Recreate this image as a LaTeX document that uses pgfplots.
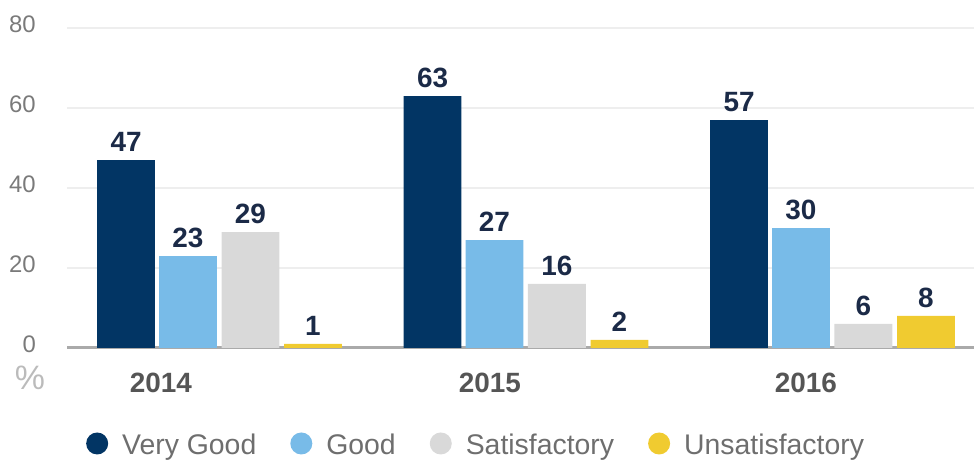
\documentclass[border=0pt]{standalone}
\usepackage{pgfplots}
\pgfplotsset{compat=1.18}
\usepackage{fontspec}
\setmainfont{Liberation Sans}
\definecolor{vgood}{HTML}{023564}
\definecolor{good}{HTML}{78BBE8}
\definecolor{satis}{HTML}{D9D9D9}
\definecolor{unsat}{HTML}{F0CB30}
\definecolor{lblcol}{HTML}{1B2A47}
\definecolor{yrcol}{HTML}{555555}
\definecolor{tickcol}{HTML}{7A7A7A}
\definecolor{gridcol}{HTML}{EEEEEE}
\definecolor{basecol}{HTML}{AAAAAA}

\begin{document}
\begin{tikzpicture}
\useasboundingbox (0,0) rectangle (974bp,462bp);
\begin{axis}[
  at={(67bp,114bp)}, anchor=south west,
  scale only axis,
  width=907bp, height=320bp,
  ybar,
  bar width=0.189,
  xmin=-0.4976, xmax=2.4617,
  ymin=0, ymax=80,
  ytick={20,40,60,80},
  extra y ticks={0},
  extra y tick style={grid style={draw=basecol, line width=3bp}},
  ymajorgrids,
  grid style={draw=gridcol, line width=1.5bp},
  axis line style={draw=none},
  major tick length=0pt,
  xtick={-0.191,0.882,1.913},
  xticklabels={2014,2015,2016},
  xticklabel style={font=\fontsize{28}{30}\selectfont\bfseries, text=yrcol, inner sep=0pt, anchor=north, yshift=-25bp},
  yticklabel style={font=\fontsize{24}{26}\selectfont, text=tickcol, inner sep=0pt, anchor=east, xshift=-31bp, yshift=3.5bp},
  /pgf/number format/assume math mode=true,
  nodes near coords,
  every node near coord/.append style={font=\fontsize{28}{30}\selectfont\bfseries, text=lblcol, inner sep=0pt, anchor=south, yshift=8bp},
  legend columns=4,
  legend image code/.code={\fill[#1, draw=none] (0bp,1bp) circle (11bp);},
  legend style={at={(0.0209,-0.3000)}, anchor=west, draw=none, fill=none, inner sep=0pt,
    font=\fontsize{28.5}{30}\selectfont, text=tickcol!90!black,
    nodes={inner sep=0pt},
    /tikz/every odd column/.append style={column sep=14bp},
    /tikz/every even column/.append style={column sep=34bp}},
  clip=false,
]
\addplot[fill=vgood, draw=none, bar shift=-0.305] coordinates {(0,47) (1,63) (2,57)};
\addplot[fill=good, draw=none, bar shift=-0.1028] coordinates {(0,23) (1,27) (2,30)};
\addplot[fill=satis, draw=none, bar shift=0.101] coordinates {(0,29) (1,16) (2,6)};
\addplot[fill=unsat, draw=none, bar shift=0.305] coordinates {(0,1) (1,2) (2,8)};
\legend{Very Good, Good, Satisfactory, Unsatisfactory}
\node[font=\fontsize{34}{36}\selectfont, text=basecol!80!white] at (axis description cs:-0.0408,-0.09375) {\%};
\end{axis}
\end{tikzpicture}
\end{document}
